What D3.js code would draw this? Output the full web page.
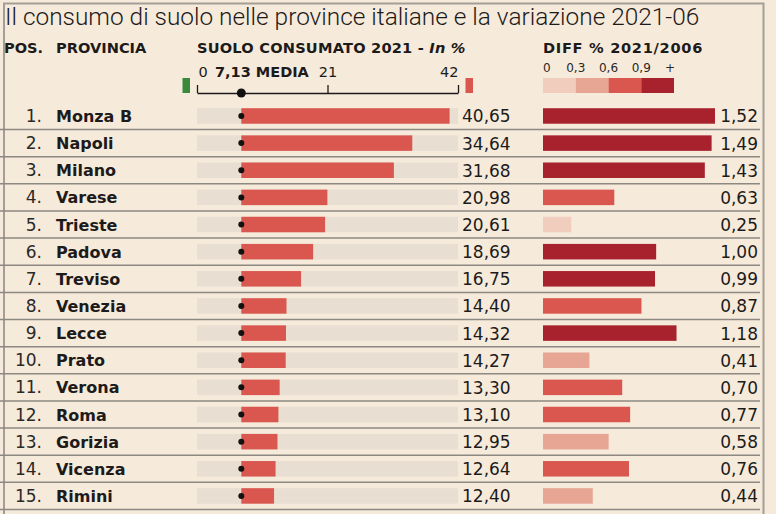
<!DOCTYPE html>
<html>
<head>
<meta charset="utf-8">
<script src="https://cdn.jsdelivr.net/npm/d3@7"></script>
<style>
  html, body { margin: 0; padding: 0; background: #f6eadb; }
  svg { display: block; }
  text { font-family: "DejaVu Sans", sans-serif; fill: #1d1b1a; }
</style>
</head>
<body>
<script>
// data
const provinces = ["Monza B", "Napoli", "Milano", "Varese", "Trieste", "Padova", "Treviso", "Venezia",
  "Lecce", "Prato", "Verona", "Roma", "Gorizia", "Vicenza", "Rimini"];
const consumo2021 = [40.65, 34.64, 31.68, 20.98, 20.61, 18.69, 16.75, 14.40, 14.32, 14.27, 13.30, 13.10, 12.95, 12.64, 12.40];
const diff2021_2006 = [1.52, 1.49, 1.43, 0.63, 0.25, 1.00, 0.99, 0.87, 1.18, 0.41, 0.70, 0.77, 0.58, 0.76, 0.44];
const media = 7.13;
const axisTicks = [0, 21, 42];
const legendBreaks = [0.3, 0.6, 0.9];
const legendLabels = ["0", "0,3", "0,6", "0,9", "+"];
const diffColors = ["#f1cdbe", "#e7a593", "#d9574e", "#a8222d"];

const width = 776, height = 514;
const fmt = v => d3.format(".2f")(v).replace(".", ",");

const svg = d3.select("body").append("svg")
    .attr("width", width)
    .attr("height", height);

svg.append("rect").attr("width", width).attr("height", height).attr("fill", "#f6eadb");

// frame
svg.append("path")
    .attr("d", "M4,530 V3.5 H763.5 V530")
    .attr("fill", "none")
    .attr("stroke", "#a39e98")
    .attr("stroke-width", 2);

// title
svg.append("text")
    .attr("x", 5).attr("y", 25)
    .style("font-family", "Roboto")
    .style("font-weight", 300)
    .style("font-size", "24.4px")
    .text("Il consumo di suolo nelle province italiane e la variazione 2021-06");

// headers
const head = svg.append("g").style("font-weight", 700).style("font-size", "14.6px");
head.append("text").attr("x", 4).attr("y", 53).text("POS.");
head.append("text").attr("x", 56).attr("y", 53).text("PROVINCIA");
const h3 = head.append("text").attr("x", 197).attr("y", 53).style("letter-spacing", "0.2px");
h3.append("tspan").text("SUOLO CONSUMATO 2021 - ");
h3.append("tspan").style("font-style", "italic").text("In %");
head.append("text").attr("x", 543).attr("y", 53).style("letter-spacing", "0.7px").text("DIFF % 2021/2006");

// scales
const y = d3.scaleBand().domain(provinces).range([102.4, 509.5]);
const x = d3.scaleLinear().domain([0, 42]).range([197, 458]);
const xd = d3.scaleLinear().domain([0, 1.52]).range([543, 715]);
const color = d3.scaleThreshold().domain(legendBreaks).range(diffColors);
const barH = 15.5;

// top axis for consumo
const axisG = svg.append("g")
    .attr("transform", "translate(0,93)")
    .call(d3.axisTop(x).tickValues(axisTicks).tickSize(8).tickSizeOuter(0).tickFormat(d3.format("d")));
axisG.select(".domain").attr("stroke", "#1d1b1a").attr("stroke-width", 1.3);
axisG.selectAll(".tick line").attr("stroke", "#1d1b1a").attr("stroke-width", 1.3);
axisG.selectAll(".tick text")
    .attr("y", -16)
    .style("font-family", "DejaVu Sans")
    .style("font-size", "14.5px")
    .style("fill", "#1d1b1a")
    .attr("text-anchor", (d, i) => i === 0 ? "start" : i === axisTicks.length - 1 ? "end" : "middle");
axisG.selectAll(".tick").filter(d => d === 0).select("text").attr("dx", 1);

svg.append("circle").attr("cx", x(media)).attr("cy", 93).attr("r", 4.5).attr("fill", "#111");
svg.append("text").attr("x", 215).attr("y", 77)
    .style("font-weight", 700).style("font-size", "14.5px")
    .text(fmt(media) + " MEDIA");

// below / above mean key
svg.append("rect").attr("x", 182.5).attr("y", 78).attr("width", 7.5).attr("height", 15).attr("fill", "#3a8a3c");
svg.append("rect").attr("x", 465.5).attr("y", 78).attr("width", 7.5).attr("height", 15).attr("fill", "#d9574e");

// diff legend
const legX = d3.scaleLinear().domain([0, 4]).range([543, 674]);
svg.append("g").selectAll("rect")
  .data(diffColors)
  .join("rect")
    .attr("x", (d, i) => legX(i))
    .attr("y", 78)
    .attr("width", legX(1) - legX(0))
    .attr("height", 15)
    .attr("fill", d => d);
svg.append("g").selectAll("text")
  .data(legendLabels)
  .join("text")
    .attr("x", (d, i) => i === 0 ? legX(0) : i === 4 ? legX(4) - 4 : legX(i))
    .attr("y", 72)
    .attr("text-anchor", (d, i) => i === 0 ? "start" : "middle")
    .style("font-size", "12px")
    .style("fill", "#2a2826")
    .text(d => d);

// rows
const rows = svg.append("g").selectAll("g")
  .data(provinces.map((p, i) => ({name: p, pos: i + 1, v: consumo2021[i], d: diff2021_2006[i]})))
  .join("g")
    .attr("transform", d => `translate(0,${y(d.name) + y.bandwidth() / 2})`);

rows.append("line")
    .attr("x1", 0).attr("x2", 760)
    .attr("y1", y.bandwidth() / 2).attr("y2", y.bandwidth() / 2)
    .attr("stroke", "#8d8882")
    .attr("stroke-width", 1.5);

rows.append("text")
    .attr("x", 42).attr("y", 6)
    .attr("text-anchor", "end")
    .style("font-size", "17px")
    .style("fill", "#2b2927")
    .text(d => d.pos + ".");

rows.append("text")
    .attr("x", 56).attr("y", 6)
    .style("font-size", "16px")
    .style("font-weight", 700)
    .text(d => d.name);

rows.append("rect")
    .attr("x", x(0)).attr("y", -barH / 2)
    .attr("width", x(42) - x(0)).attr("height", barH)
    .attr("fill", "#e8ded2");

rows.append("rect")
    .attr("x", x(media)).attr("y", -barH / 2)
    .attr("width", d => x(d.v) - x(media)).attr("height", barH)
    .attr("fill", "#d9574e");

rows.append("circle")
    .attr("cx", x(media)).attr("cy", 0).attr("r", 3)
    .attr("fill", "#111");

rows.append("text")
    .attr("x", 462).attr("y", 6.5)
    .style("font-size", "17px")
    .text(d => fmt(d.v));

rows.append("rect")
    .attr("x", xd(0)).attr("y", -barH / 2)
    .attr("width", d => xd(d.d) - xd(0)).attr("height", barH)
    .attr("fill", d => color(d.d));

rows.append("text")
    .attr("x", 758).attr("y", 6.5)
    .attr("text-anchor", "end")
    .style("font-size", "17px")
    .text(d => fmt(d.d));
</script>
</body>
</html>
